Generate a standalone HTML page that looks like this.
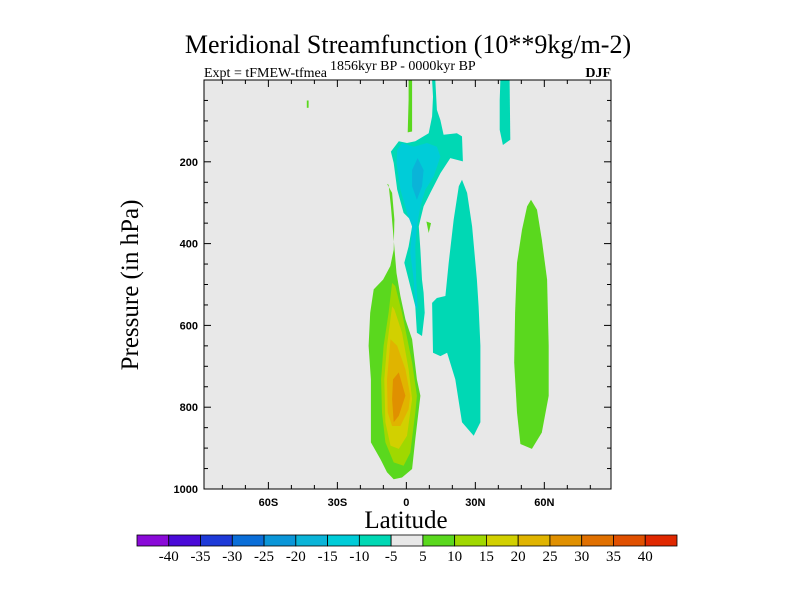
<!DOCTYPE html>
<html><head><meta charset="utf-8"><style>
body{margin:0;background:#fff;}
svg{display:block;font-family:"Liberation Serif",serif;}
.tk{font-family:"Liberation Sans",sans-serif;font-weight:bold;}
</style></head><body>
<svg id="chart" width="800" height="600" viewBox="0 0 800 600">
<text x="408" y="53" font-size="26" text-anchor="middle">Meridional Streamfunction (10**9kg/m-2)</text>
<text x="204" y="77" font-size="14">Expt = tFMEW-tfmea</text>
<text x="330" y="70" font-size="14">1856kyr BP - 0000kyr BP</text>
<text x="611" y="77" font-size="14" font-weight="bold" text-anchor="end">DJF</text>
<text transform="translate(138,285) rotate(-90)" font-size="25" text-anchor="middle">Pressure (in hPa)</text>
<text x="406" y="528" font-size="25" text-anchor="middle">Latitude</text>
<defs><clipPath id="clip"><rect x="204" y="80" width="407" height="409"/></clipPath></defs>
<rect x="204" y="80" width="407" height="409" fill="#e8e8e8"/>
<g id="contours" clip-path="url(#clip)"></g>
<g id="axes"></g>
<g id="colorbar"></g>
</svg>
<script>
const latMin=-88, latMax=89, pMin=0, pMax=1000;
const xTickVals=[-60,-30,0,30,60];
const xTickLabels=["60S","30S","0","30N","60N"];
const yTickVals=[200,400,600,800,1000];
const levelLabels=["-40","-35","-30","-25","-20","-15","-10","-5","5","10","15","20","25","30","35","40"];
const levelColors=["#8a0ad8","#4a0ad8","#1e3ad8","#0a6ed8","#0a96d8","#0ab4d8","#00ccd8","#00d8b4","#e8e8e8","#5ad81e","#a0d800","#d2d000","#e0b400","#e09000","#e07000","#e05000","#e02800"];
// contour polygons: [lat, pressure]
const greenOuter=[[-8.4,254],[-6.2,276],[-5.2,341],[-5.5,415],[-7.0,455],[-10.1,488],[-14.2,512],[-15.7,569],[-16.4,650],[-15.4,732],[-15.4,886],[-11.3,927],[-8.4,959],[-5.5,976],[-1.9,972],[2.5,951],[3.9,878],[6.1,772],[4.6,732],[2.5,634],[-0.4,585],[-2.6,528],[-4.3,472],[-5.5,390],[-6.7,309],[-7.7,256]];
const level10=[[-6.2,496],[-7.7,569],[-9.9,650],[-11.0,732],[-10.6,813],[-9.1,886],[-5.5,935],[-1.2,943],[1.7,911],[3.9,813],[4.6,772],[2.5,691],[-1.9,569],[-4.8,504]];
const level15=[[-6.2,553],[-8.4,650],[-9.6,732],[-9.1,837],[-6.9,894],[-3.3,902],[0.3,870],[2.5,780],[1.0,707],[-1.9,618],[-5.2,561]];
const level20=[[-6.9,634],[-8.4,732],[-8.1,813],[-6.2,846],[-2.6,846],[1.0,805],[1.7,772],[-0.4,707],[-4.0,650]];
const level25=[[-5.8,732],[-6.2,780],[-5.5,837],[-3.3,821],[-0.4,772],[-3.3,715]];
const cyanUpper=[[11.2,0],[12.6,0],[13.3,73],[14.8,98],[16.2,134],[22.0,130],[24.2,138],[24.6,199],[19.1,191],[14.8,228],[10.4,276],[7.5,309],[6.1,341],[5.4,358],[6.1,415],[6.8,488],[7.5,520],[8.0,569],[6.8,626],[4.6,618],[3.9,553],[1.0,488],[-0.9,447],[1.0,407],[2.5,358],[1.7,341],[-1.2,325],[-4.0,268],[-5.5,203],[-6.7,175],[-3.3,150],[0.3,154],[3.9,150],[9.7,130],[11.2,89],[11.6,41]];
const cyanLower=[[24.2,244],[26.4,276],[28.6,358],[30.7,488],[31.4,553],[32.2,650],[32.2,837],[29.3,870],[24.2,837],[21.3,732],[17.7,667],[14.8,675],[11.6,667],[11.2,545],[13.3,533],[17.0,528],[18.4,447],[20.6,341],[22.8,260]];
const cyanTopRight=[[40.9,0],[44.9,0],[45.2,146],[42.0,159],[40.6,122],[40.6,49]];
const blue10=[[-4.0,171],[-1.9,154],[3.2,163],[9.0,154],[13.3,163],[14.8,187],[11.9,236],[8.3,268],[6.1,309],[4.6,358],[3.9,407],[4.3,488],[4.9,561],[3.9,553],[3.2,488],[1.7,423],[2.5,358],[0.3,325],[-2.6,268],[-4.3,203]];
const blue15=[[4.9,191],[7.5,220],[6.8,260],[4.6,293],[2.5,260],[2.5,220]];
const greenTop=[[1.0,0],[2.5,0],[2.5,126],[0.6,128],[1.0,49]];
const greenSmall=[[8.7,346],[10.7,350],[9.7,374]];
const greenDot=[[-43.3,50],[-42.5,50],[-42.5,68],[-43.3,68]];
const greenRight=[[54.2,293],[56.8,317],[58.9,390],[61.2,488],[61.9,650],[61.9,772],[58.9,862],[54.6,902],[49.6,890],[48.1,813],[46.9,691],[47.3,569],[48.1,447],[50.3,366],[52.5,309]];

const NS="http://www.w3.org/2000/svg";
const X0=204,X1=611,Y0=80,Y1=489;
function xs(l){return X0+(l-latMin)/(latMax-latMin)*(X1-X0);}
function ys(p){return Y0+(p-pMin)/(pMax-pMin)*(Y1-Y0);}
function el(t,a,parent){const e=document.createElementNS(NS,t);for(const k in a)e.setAttribute(k,a[k]);parent.appendChild(e);return e;}
const cg=document.getElementById('contours');
function poly(pts,color,name){
  const e=el('polygon',{points:pts.map(q=>xs(q[0]).toFixed(1)+','+ys(q[1]).toFixed(1)).join(' '),fill:color},cg);
  
  
}
poly(greenOuter,levelColors[9],'contour-pos5-south');
poly(level10,levelColors[10],'contour-pos10');
poly(level15,levelColors[11],'contour-pos15');
poly(level20,levelColors[12],'contour-pos20');
poly(level25,levelColors[13],'contour-pos25');
poly(cyanUpper,levelColors[7],'contour-neg5-upper');
poly(cyanLower,levelColors[7],'contour-neg5-lower');
poly(cyanTopRight,levelColors[7],'contour-neg5-topright');
poly(blue10,levelColors[6],'contour-neg10');
poly(blue15,levelColors[5],'contour-neg15');
poly(greenTop,levelColors[9],'contour-pos5-top');
poly(greenSmall,levelColors[9],'contour-pos5-small');
poly(greenDot,levelColors[9],'contour-pos5-dot');
poly(greenRight,levelColors[9],'contour-pos5-north');

const ag=document.getElementById('axes');
const frame=el('rect',{x:X0,y:Y0,width:X1-X0,height:Y1-Y0,fill:'none',stroke:'#000','stroke-width':1},ag);


for(let l=-80;l<=80;l+=10){
  const major=l%30===0, len=major?7:4, x=xs(l);
  el('line',{x1:x,y1:Y1,x2:x,y2:Y1-len,stroke:'#000'},ag);
  el('line',{x1:x,y1:Y0,x2:x,y2:Y0+len,stroke:'#000'},ag);
}
for(let p=50;p<=1000;p+=50){
  const major=p%200===0, len=major?7:4, y=ys(p);
  el('line',{x1:X0,y1:y,x2:X0+len,y2:y,stroke:'#000'},ag);
  el('line',{x1:X1,y1:y,x2:X1-len,y2:y,stroke:'#000'},ag);
}
xTickVals.forEach((v,i)=>{
  const t=el('text',{x:xs(v),y:Y1+17,'font-size':11,'text-anchor':'middle','class':'tk'},ag);
  t.textContent=xTickLabels[i];
  
  
});
yTickVals.forEach(v=>{
  const t=el('text',{x:X0-6,y:ys(v)+4,'font-size':11,'text-anchor':'end','class':'tk'},ag);
  t.textContent=String(v);
  
  
});
const cb=document.getElementById('colorbar');
const cbX=137,cbW=540,cbY=535,cbH=11,bw=cbW/levelColors.length;
levelColors.forEach((c,i)=>{
  const r=el('rect',{x:cbX+i*bw,y:cbY,width:bw,height:cbH,fill:c,stroke:'#000','stroke-width':0.8},cb);
  
  
});
levelLabels.forEach((s,i)=>{
  const t=el('text',{x:cbX+(i+1)*bw,y:cbY+cbH+15,'font-size':15,'text-anchor':'middle'},cb);
  t.textContent=s;
  
  
});
</script>
</body></html>
